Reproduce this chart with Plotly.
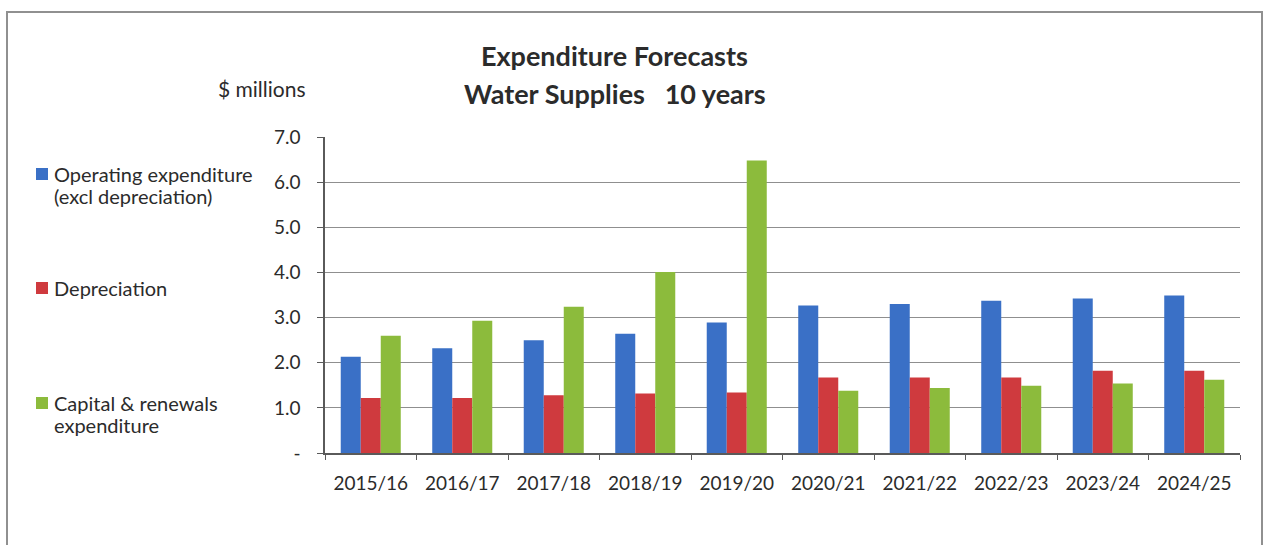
import plotly.graph_objects as go

# Financial years on the category axis
years = ["2015/16", "2016/17", "2017/18", "2018/19", "2019/20",
         "2020/21", "2021/22", "2022/23", "2023/24", "2024/25"]

# $ millions per year
operating = [2.13, 2.32, 2.50, 2.64, 2.89, 3.27, 3.30, 3.37, 3.42, 3.49]
depreciation = [1.22, 1.22, 1.28, 1.32, 1.34, 1.67, 1.67, 1.67, 1.82, 1.82]
capital = [2.60, 2.93, 3.24, 4.01, 6.48, 1.38, 1.44, 1.49, 1.54, 1.62]

series_names = ["Operating expenditure (excl depreciation)",
                "Depreciation",
                "Capital & renewals expenditure"]
# legend text broken over lines
legend_lines = [["Operating expenditure", "(excl depreciation)"],
                ["Depreciation"],
                ["Capital & renewals", "expenditure"]]
series_colors = ["#3a70c6", "#cf3a3e", "#8cbb3c"]

y_ticks = [0, 1, 2, 3, 4, 5, 6, 7]
y_ticktext = ["-", "1.0", "2.0", "3.0", "4.0", "5.0", "6.0", "7.0"]

W, H = 1268, 545
L, R, T, B = 325, 28, 137, 92
PW, PH = W - L - R, H - T - B


def px_x(px):
    return (px - L) / PW


def px_y(py):
    return (H - B - py) / PH


FONT = "Lato"
TXT = "#2b2b2b"

fig = go.Figure()
for name, vals, col in zip(series_names, [operating, depreciation, capital], series_colors):
    fig.add_trace(go.Bar(x=years, y=vals, name=name, marker_color=col,
                         marker_line_width=0, showlegend=False))

fig.update_layout(
    width=W, height=H,
    margin=dict(l=L, r=R, t=T, b=B),
    paper_bgcolor="white", plot_bgcolor="white",
    barmode="group", bargap=0.344, bargroupgap=0,
    font=dict(family=FONT, size=19, color=TXT),
)

fig.update_xaxes(
    showgrid=False, showline=True, linecolor="#5a5a5a", linewidth=1.5,
    ticks="outside", tickson="boundaries", ticklen=5, tickcolor="#5a5a5a",
    tickfont=dict(family=FONT, size=19, color=TXT), ticklabelstandoff=12,
)
fig.update_yaxes(
    range=[0, 7], tickvals=y_ticks, ticktext=y_ticktext,
    showgrid=True, gridcolor="#8f8f8f", gridwidth=1,
    showline=True, linecolor="#5a5a5a", linewidth=1.5,
    ticks="outside", ticklen=6, tickcolor="#5a5a5a",
    tickfont=dict(family=FONT, size=19, color=TXT), ticklabelstandoff=13,
    zeroline=False,
)

# outer chart frame
fig.add_shape(type="rect", xref="paper", yref="paper",
              x0=px_x(7), x1=px_x(1262), y0=px_y(575), y1=px_y(12),
              line=dict(color="#909090", width=2), fillcolor="rgba(0,0,0,0)")

# titles
fig.add_annotation(text="<b>Expenditure Forecasts</b>", xref="paper", yref="paper",
                   x=px_x(614), y=px_y(56), xanchor="center", yanchor="middle",
                   showarrow=False, font=dict(family=FONT, size=27, color=TXT))
fig.add_annotation(text="<b>Water Supplies   10 years</b>", xref="paper", yref="paper",
                   x=px_x(615), y=px_y(94), xanchor="center", yanchor="middle",
                   showarrow=False, font=dict(family=FONT, size=27, color=TXT))
fig.add_annotation(text="$ millions", xref="paper", yref="paper",
                   x=px_x(308), y=px_y(88), xanchor="right", yanchor="middle",
                   showarrow=False, font=dict(family=FONT, size=21, color=TXT))

# legend drawn at the left of the chart
legend_rows = [174, 288, 403]
for lines, col, yc in zip(legend_lines, series_colors, legend_rows):
    fig.add_shape(type="rect", xref="paper", yref="paper",
                  x0=px_x(36), x1=px_x(48), y0=px_y(yc + 6), y1=px_y(yc - 6),
                  line=dict(width=0), fillcolor=col)
    for i, line in enumerate(lines):
        fig.add_annotation(text=line, xref="paper", yref="paper",
                           x=px_x(52), y=px_y(yc + 22 * i), xanchor="left",
                           yanchor="middle", align="left", showarrow=False,
                           font=dict(family=FONT, size=20, color=TXT))

fig.write_html("out.html")
